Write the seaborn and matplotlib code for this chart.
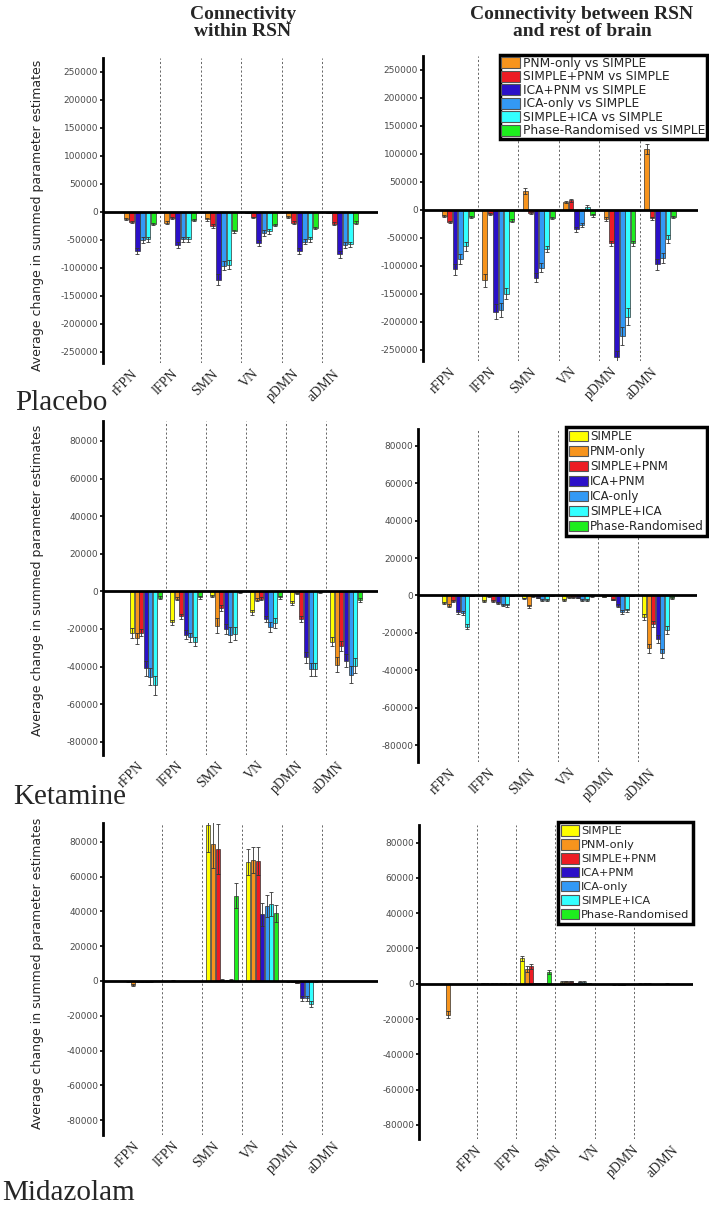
import numpy as np
import pandas as pd
import matplotlib
matplotlib.use("Agg")
import matplotlib.pyplot as plt
from matplotlib.patches import Patch
from matplotlib.container import BarContainer
import seaborn as sns

# ---------------- data ----------------
networks = ["rFPN", "lFPN", "SMN", "VN", "pDMN", "aDMN"]

placebo_series = ["PNM-only vs SIMPLE", "SIMPLE+PNM vs SIMPLE", "ICA+PNM vs SIMPLE",
                  "ICA-only vs SIMPLE", "SIMPLE+ICA vs SIMPLE", "Phase-Randomised vs SIMPLE"]
drug_series = ["SIMPLE", "PNM-only", "SIMPLE+PNM", "ICA+PNM", "ICA-only", "SIMPLE+ICA",
               "Phase-Randomised"]

placebo_colors = ["#F7941D", "#ED1C24", "#2B10C8", "#3399F5", "#33FFFF", "#1EEE1E"]
drug_colors = ["#FFFF00", "#F7941D", "#ED1C24", "#2B10C8", "#3399F5", "#33FFFF", "#1EEE1E"]

# Placebo - within RSN
placebo_within = [
    [-13000, -19000, -13500, -1500, -9000, -1500],
    [-18000, -11000, -25000, -10000, -19000, -21000],
    [-70000, -59000, -121000, -56000, -70000, -76000],
    [-50000, -49000, -96000, -38000, -53000, -59000],
    [-49000, -49000, -94000, -35000, -49000, -58000],
    [-22000, -15000, -35000, -23000, -29000, -19000],
]
placebo_within_err = [
    [2000, 2500, 2000, 500, 1500, 500],
    [2000, 1500, 3000, 1500, 2000, 2500],
    [6000, 5000, 10000, 5000, 5000, 6000],
    [5000, 4000, 8000, 5000, 5000, 5000],
    [5000, 4000, 8000, 4000, 4000, 5000],
    [2000, 1500, 3000, 2000, 2000, 2000],
]
# Placebo - between RSN and rest of brain
placebo_between = [
    [-10500, -126000, 34000, 13500, -16000, 108000],
    [-22000, -8000, -6000, 17000, -60000, -15000],
    [-106000, -182000, -121000, -35000, -262000, -97000],
    [-88000, -179000, -103000, -27000, -226000, -86000],
    [-65000, -150000, -70000, 4500, -191000, -52000],
    [-13000, -19000, -14000, -10000, -60000, -13000],
]
placebo_between_err = [
    [2000, 12000, 6000, 2000, 3000, 9000],
    [2000, 2000, 2000, 3000, 5000, 3000],
    [10000, 13000, 8000, 4000, 10000, 10000],
    [9000, 13000, 8000, 4000, 16000, 9000],
    [8000, 10000, 6000, 4000, 15000, 7000],
    [2000, 2000, 2000, 2000, 4000, 2000],
]
# Ketamine
ketamine_within = [
    [-22200, -16500, -2300, -11200, -6000, -26700],
    [-24900, -4000, -18300, -4400, -1000, -39000],
    [-21900, -13300, -8900, -3900, -14600, -29000],
    [-41000, -23000, -20000, -14700, -35000, -36800],
    [-45500, -24400, -23000, -19000, -41400, -44400],
    [-50000, -26700, -22600, -16900, -41400, -39600],
    [-3500, -3200, -400, -3000, -300, -4400],
]
ketamine_within_err = [
    [2500, 1500, 500, 1500, 1000, 2500],
    [3000, 800, 4000, 800, 400, 4000],
    [2000, 1500, 1500, 800, 1500, 2500],
    [4000, 2500, 2500, 1500, 3000, 3500],
    [4500, 2500, 4000, 2500, 3500, 4500],
    [5000, 2500, 3500, 2500, 3500, 4000],
    [800, 800, 300, 800, 300, 1000],
]
ketamine_between = [
    [-4000, -3100, -1600, -2500, -700, -11500],
    [-5400, -400, -5800, -900, -200, -28300],
    [-3100, -3100, -400, -900, -2200, -15100],
    [-8800, -4000, -1300, -1300, -5400, -23200],
    [-9400, -4900, -2200, -2200, -8800, -31000],
    [-16600, -5200, -2200, -2200, -7900, -18400],
    [-300, -200, -100, -500, -200, -1300],
]
ketamine_between_err = [
    [600, 500, 400, 500, 300, 1500],
    [700, 200, 800, 300, 100, 2500],
    [500, 500, 200, 300, 400, 1500],
    [900, 500, 300, 300, 800, 2000],
    [900, 600, 500, 500, 900, 2500],
    [1200, 700, 500, 500, 900, 2000],
    [100, 100, 100, 200, 100, 400],
]
# Midazolam
midazolam_within = [
    [-100, 100, 90000, 68700, -200, 100],
    [-2500, 200, 79000, 69600, -300, 100],
    [-200, 100, 76000, 69200, -1000, 100],
    [-300, 100, 800, 38400, -10000, -100],
    [-500, 100, 200, 43200, -10000, -100],
    [-200, 100, 600, 44300, -13300, -100],
    [100, 100, 49100, 39000, -200, 100],
]
midazolam_within_err = [
    [200, 100, 16000, 7500, 200, 100],
    [500, 100, 14000, 7500, 200, 100],
    [200, 100, 14500, 8000, 300, 100],
    [200, 100, 300, 6500, 1500, 100],
    [200, 100, 200, 6500, 1500, 100],
    [200, 100, 300, 7000, 1800, 100],
    [100, 100, 7000, 5000, 200, 100],
]
midazolam_between = [
    [-100, 200, 14500, 1000, -100, 100],
    [-17500, 100, 8300, 1300, -100, 100],
    [-100, 100, 9800, 1500, -100, 100],
    [-100, 100, 300, 300, -300, -100],
    [-100, 100, 200, 1200, -300, -100],
    [-100, 100, 300, 1000, -500, -100],
    [-100, 100, 6600, 200, -100, 100],
]
midazolam_between_err = [
    [100, 100, 1500, 300, 100, 100],
    [1800, 100, 1500, 300, 100, 100],
    [100, 100, 1200, 300, 100, 100],
    [100, 100, 100, 200, 200, 100],
    [100, 100, 100, 300, 200, 100],
    [100, 100, 100, 300, 200, 100],
    [100, 100, 1000, 100, 100, 100],
]

row_labels = ["Placebo", "Ketamine", "Midazolam"]
col_titles = ["Connectivity\nwithin RSN", "Connectivity between RSN\nand rest of brain"]
ylabel_text = "Average change in summed parameter estimates"

# ---------------- style ----------------
sns.set_style("white")
plt.rcParams["font.family"] = ["DejaVu Sans"]

W, H = 709, 1208
fig = plt.figure(figsize=(W / 100, H / 100), dpi=100)


def add_ax(x0, x1, y0, y1):
    return fig.add_axes([x0 / W, 1 - y1 / H, (x1 - x0) / W, (y1 - y0) / H])


def panel(ax, values, errs, series, colors, xlim, ylim, yticks, tick_shift=0.0):
    rows = []
    for s, vals in zip(series, values):
        for n, v in zip(networks, vals):
            rows.append({"network": n, "series": s, "value": v})
    df = pd.DataFrame(rows)
    sns.barplot(data=df, x="network", y="value", hue="series", order=networks,
                hue_order=series, palette=colors, saturation=1, errorbar=None,
                width=0.8, gap=0.12, edgecolor="#333333", linewidth=0.5,
                legend=False, ax=ax, zorder=2)
    bar_conts = [c for c in ax.containers if isinstance(c, BarContainer)]
    for i, cont in enumerate(bar_conts):
        xs, ys, es = [], [], []
        for bar in cont:
            xc = bar.get_x() + bar.get_width() / 2
            j = int(round(xc))
            xs.append(xc)
            ys.append(bar.get_y() + bar.get_height())
            es.append(errs[i][j])
        ax.errorbar(xs, ys, yerr=es, fmt="none", ecolor="#333333", elinewidth=0.6,
                    capsize=1.3, capthick=0.6, zorder=3)
    for k in range(len(networks) - 1):
        ax.axvline(k + 0.5, color="#666666", lw=0.7, ls=(0, (2.2, 2.2)), zorder=1)
    ax.axhline(0, color="black", lw=2, zorder=4)
    ax.set_xlim(*xlim)
    ax.set_ylim(*ylim)
    ax.set_yticks(yticks)
    ax.set_yticklabels([str(t) for t in yticks])
    ax.set_xticks(np.arange(len(networks)) + tick_shift)
    ax.set_xticklabels(networks, rotation=45, ha="right", fontfamily="Liberation Serif",
                       fontsize=10)
    ax.tick_params(axis="x", length=0, pad=3)
    ax.tick_params(axis="y", length=2.5, width=1.2, direction="out", pad=1,
                   labelsize=6.5, labelcolor="#4a4a4a", color="black", left=True)
    ax.set_xlabel("")
    ax.set_ylabel("")
    for sp in ["top", "right", "bottom"]:
        ax.spines[sp].set_visible(False)
    ax.spines["left"].set_linewidth(2)
    ax.spines["left"].set_color("black")
    ax.patch.set_alpha(0)


def add_legend(ax, series, colors, right_px, top_px, fs, lspace, bpad):
    handles = [Patch(facecolor=c, edgecolor="#555555", linewidth=0.8) for c in colors]
    leg = ax.legend(handles, series, loc="upper right",
                    bbox_to_anchor=(right_px / W, 1 - top_px / H),
                    bbox_transform=fig.transFigure, fontsize=fs, frameon=True,
                    fancybox=False, handlelength=1.55, handleheight=1.0,
                    handletextpad=0.2, labelspacing=lspace, borderpad=bpad,
                    borderaxespad=0)
    fr = leg.get_frame()
    fr.set_edgecolor("black")
    fr.set_linewidth(2.5)
    fr.set_facecolor("white")
    fr.set_alpha(1)
    leg.set_zorder(10)


big_ticks = [-250000, -200000, -150000, -100000, -50000, 0, 50000, 100000, 150000,
             200000, 250000]
small_ticks = [-80000, -60000, -40000, -20000, 0, 20000, 40000, 60000, 80000]

# Row 1: Placebo
ax = add_ax(103, 378, 58, 363)
panel(ax, placebo_within, placebo_within_err, placebo_series, placebo_colors,
      (-0.91, 5.88), (-270000, 275000), big_ticks)
ax = add_ax(423, 698, 56, 361)
panel(ax, placebo_between, placebo_between_err, placebo_series, placebo_colors,
      (-0.86, 5.94), (-270000, 275000), big_ticks)
add_legend(ax, placebo_series, placebo_colors, 707, 55, 8.8, 0.04, 0.15)

# Row 2: Ketamine
ax = add_ax(103, 378, 421, 755)
panel(ax, ketamine_within, ketamine_within_err, drug_series, drug_colors,
      (-1.07, 5.8), (-87000, 90600), small_ticks)
ax = add_ax(418, 697, 429, 762)
panel(ax, ketamine_between, ketamine_between_err, drug_series, drug_colors,
      (-1.0, 5.98), (-89000, 89000), small_ticks)
add_legend(ax, drug_series, drug_colors, 707, 427, 8.6, 0.17, 0.25)

# Row 3: Midazolam
ax = add_ax(103, 378, 823, 1135)
panel(ax, midazolam_within, midazolam_within_err, drug_series, drug_colors,
      (-0.98, 5.9), (-88600, 90900), small_ticks)
ax = add_ax(419, 693, 825, 1139)
panel(ax, midazolam_between, midazolam_between_err, drug_series, drug_colors,
      (-0.97, 6.0), (-88000, 90000), small_ticks, tick_shift=0.7)
add_legend(ax, drug_series, drug_colors, 693, 822, 8.2, 0.26, 0.3)

# Column titles
fig.text(243 / W, 1 - 23 / H, col_titles[0], ha="center", va="center",
         fontfamily="Liberation Serif", fontweight="bold", fontsize=14, linespacing=1.0)
fig.text(582 / W, 1 - 23 / H, col_titles[1], ha="center", va="center",
         fontfamily="Liberation Serif", fontweight="bold", fontsize=14, linespacing=1.0)

# Row labels
for lab, (xp, yp) in zip(row_labels, [(15, 403), (13, 797), (2, 1193)]):
    fig.text(xp / W, 1 - yp / H, lab, ha="left", va="center",
             fontfamily="Liberation Serif", fontsize=21)

# Y labels
for ytop in [60, 425, 818]:
    fig.text(38 / W, 1 - ytop / H, ylabel_text, rotation=90, ha="center", va="top",
             fontsize=9)

fig.savefig("out.png", dpi=100)
